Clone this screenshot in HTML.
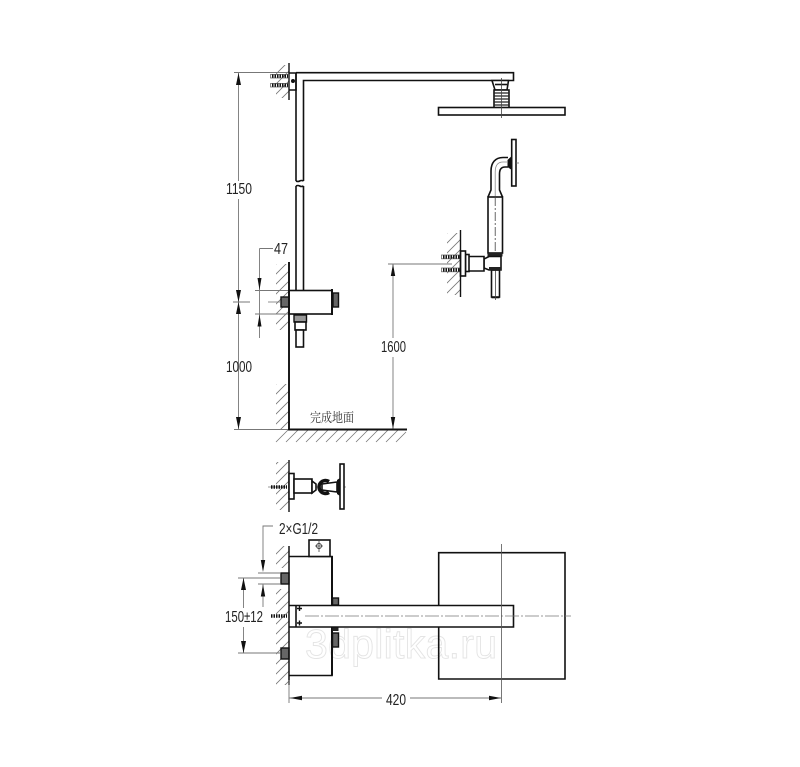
<!DOCTYPE html>
<html><head><meta charset="utf-8"><style>
html,body{margin:0;padding:0;background:#fff;width:800px;height:767px;overflow:hidden}
svg{display:block}
text{font-family:"Liberation Sans","Noto Sans CJK SC",sans-serif;fill:#222}
.k{fill:none;stroke:#111;stroke-width:1.6}
.w{fill:#fff;stroke:#111;stroke-width:1.6}
.t{fill:none;stroke:#444;stroke-width:.8}
.d{fill:none;stroke:#777;stroke-width:.9}
.c{fill:none;stroke:#777;stroke-width:.8;stroke-dasharray:14 2 2 2}
.a{fill:#111;stroke:none}
.n{fill:#666;stroke:#111;stroke-width:1.4}
.s{fill:none;stroke:#111;stroke-width:4;stroke-dasharray:1.5 1}
</style></head><body>
<svg width="800" height="767" viewBox="0 0 800 767" xmlns="http://www.w3.org/2000/svg">
<defs><pattern id="h" patternUnits="userSpaceOnUse" width="10" height="10"><path d="M0 10L10 0M-2 2L2 -2M8 12L12 8" stroke="#777" stroke-width=".8"/></pattern></defs>
<rect width="800" height="767" fill="#fff"/>

<!-- watermark -->
<text x="305" y="658" font-size="41" textLength="192" lengthAdjust="spacing" style="fill:#fff;stroke:#e4e4e4;stroke-width:.9">3dplitka.ru</text>

<!-- wall hatching -->
<rect x="276" y="65" width="13" height="33" fill="url(#h)"/>
<rect x="276" y="264" width="13" height="66" fill="url(#h)"/>
<rect x="276" y="384" width="13" height="45" fill="url(#h)"/>
<path d="M276 442l12 -12M286 442l12 -12M296 442l12 -12M306 442l12 -12M316 442l12 -12M326 442l12 -12M336 442l12 -12M346 442l12 -12M356 442l12 -12M366 442l12 -12M376 442l12 -12M386 442l12 -12M396 442l10 -10" stroke="#777" stroke-width=".8" fill="none"/>
<rect x="447" y="233" width="13" height="62" fill="url(#h)"/>
<rect x="276" y="462" width="13" height="48" fill="url(#h)"/>
<rect x="276" y="546" width="13" height="22" fill="url(#h)"/>
<rect x="276" y="589" width="13" height="96" fill="url(#h)"/>

<!-- upper left dims -->
<path class="d" d="M234 72.5H289M238.5 72.5V181M238.5 199V429.5M234 429.5H289M233 302H250"/>
<path class="d" d="M255 290.5H289M255 314H289M259.5 248.5H273M259.5 248.5V338"/>
<path class="a" d="M238.5 73l-2.5 12h5zM238.5 429l-2.5 -12h5zM238.5 302l-2.5 -12h5zM238.5 302l-2.5 12h5zM259.5 290l-2 -12h4zM259.5 314.500l-2 12h4z"/>
<text x="226" y="194" font-size="16" textLength="26" lengthAdjust="spacingAndGlyphs">1150</text>
<text x="226" y="372" font-size="16" textLength="26" lengthAdjust="spacingAndGlyphs">1000</text>
<text x="274" y="254" font-size="16" textLength="14" lengthAdjust="spacingAndGlyphs">47</text>

<!-- upper left wall + arm -->
<path d="M289 63V100" stroke="#111" stroke-width="1.4" fill="none"/>
<path class="s" d="M272 76H288M272 85H288"/>
<rect x="270.500" y="74.500" width="18" height="3.500" fill="none" stroke="#555" stroke-width=".7"/>
<rect x="270.500" y="83.500" width="18" height="3.500" fill="none" stroke="#555" stroke-width=".7"/>
<path class="k" d="M289 73H296V90H289"/>
<path class="k" d="M296 72.700H513.500V80.500H303.500V181M296 72.700V181"/>
<path class="k" d="M296 181q2 1 3.700 0t3.800 0M296 186q2 -1 3.700 0t3.800 0M296 186V290.500M303.500 186V290.500"/>
<circle cx="293" cy="81" r="2" fill="#111"/>

<!-- shower head -->
<path class="w" d="M492 80.500H508.500L507 90H495z"/>
<path class="k" d="M495 84.500H507"/>
<rect x="494" y="90" width="15" height="18" class="w"/>
<path d="M494 93H509M494 96H509M494 99H509M494 102H509M494 105H509" stroke="#222" stroke-width="1.300"/>
<rect x="438.500" y="107.500" width="126.500" height="7.500" class="w"/>
<path class="t" d="M501.500 78V118"/>

<!-- hand shower -->
<rect x="511.700" y="139.500" width="4.300" height="46.500" class="w"/>
<path class="a" d="M511.700 156L507.500 160V167L511.700 170z"/>
<path class="k" d="M508 157.500H503C495 157.500 491 163 491 171V190L488 197M508 167H505C501 167 499.500 170 499.500 174V190L502.500 197"/>
<path d="M508 162H503C497.500 162 495.200 166 495.200 172V196" stroke="#888" stroke-width=".8" fill="none"/>
<rect x="488" y="197" width="14.500" height="56" class="w"/>
<path class="t" d="M495.200 197V253" stroke-dasharray="9 2 2 2"/>
<path d="M516 163H519" stroke="#666" stroke-width=".8"/>
<rect x="487.500" y="253" width="15" height="3.500" fill="#222"/>
<rect x="491.500" y="270" width="8" height="27" class="w"/>
<path d="M491.500 297.500H499.500" stroke="#111" stroke-width="1.600"/>
<path class="t" d="M495.500 256V300"/>
<path class="w" d="M489 256.500H501V270H489L484 268V259z"/>
<rect x="489" y="267" width="12" height="3.500" fill="#222"/>
<path class="w" d="M465.500 256.500H484V271H465.500z"/>
<rect x="465.500" y="254.500" width="3.500" height="17" class="w"/>
<path class="s" d="M443 257H460M443 270H460"/>
<rect x="441.500" y="255" width="19" height="3.800" fill="none" stroke="#555" stroke-width=".7"/>
<rect x="441.500" y="268" width="19" height="3.800" fill="none" stroke="#555" stroke-width=".7"/>
<rect x="460.500" y="251" width="5" height="25" class="w"/>
<path d="M460.500 230V297" stroke="#111" stroke-width="1.400"/>

<!-- 1600 dim -->
<path class="d" d="M388 264H452M393 264V338M393 357V429"/>
<path class="a" d="M393 264l-2.200 12h4.400zM393 429l-2.200 -12h4.400z"/>
<text x="381" y="352" font-size="16" textLength="25" lengthAdjust="spacingAndGlyphs">1600</text>

<!-- valve side -->
<rect x="289" y="290.500" width="43" height="23.500" class="w"/>
<path d="M332 289V315" stroke="#111" stroke-width="2"/>
<rect x="333" y="293" width="5.500" height="14" class="n"/>
<rect x="281" y="297" width="8" height="10" class="n"/>
<path class="c" d="M268 302H280"/>
<rect x="294" y="315" width="12.500" height="7" class="n" style="fill:#999"/>
<rect x="295" y="322" width="11" height="8" class="w"/>
<rect x="296" y="330" width="7.500" height="17" class="w"/>
<path d="M289 262V429.500H407" fill="none" stroke="#111" stroke-width="1.900"/>
<text x="310" y="422" font-size="13" textLength="44" lengthAdjust="spacingAndGlyphs" style="font-family:'Noto Serif CJK SC','Noto Sans CJK SC',serif;fill:#333">完成地面</text>

<!-- plan top mount -->
<path class="c" d="M268 487H347"/>
<path d="M289 460V512" stroke="#111" stroke-width="1.400"/>
<rect x="289" y="473.500" width="5" height="25.500" class="w"/>
<rect x="294" y="479" width="18" height="14" class="w"/>
<path class="s" d="M271 487H287" style="stroke-width:3.500"/>
<path class="w" d="M312 481L316 484V490L312 493z"/>
<path d="M329 481.500A6.500 6.500 0 1 0 329 492.500" fill="none" stroke="#111" stroke-width="3.500"/>
<path class="w" d="M322 484L337 482V492L322 490z"/>
<path class="a" d="M337 480L340 478V496L337 494z"/>
<rect x="340" y="464" width="4" height="45" class="w"/>

<!-- plan lower: dims -->
<path class="d" d="M273 526H263V561M263 584V607M258 573H280M258 584H280M238 578H280M238 653H280M243.500 578V608M243.500 627V653"/>
<path class="a" d="M263 572l-2.200 -12h4.400zM263 584.500l-2.200 12h4.400zM243.500 578l-2.500 12h5zM243.500 653l-2.500 -12h5z"/>
<text x="279" y="534" font-size="16" textLength="39" lengthAdjust="spacingAndGlyphs">2×G1/2</text>
<text x="225" y="622" font-size="16" textLength="38" lengthAdjust="spacingAndGlyphs">150±12</text>

<!-- square head -->
<path class="k" d="M438.700 605V552.700H565V679H438.700V627"/>
<!-- valve body -->
<path d="M289 556.500H332V675.500H289" fill="none" stroke="#111" stroke-width="1.600"/>
<path d="M332 556V605M332 627V675.500" stroke="#111" stroke-width="2"/>
<rect x="309" y="540" width="21" height="16.500" class="w"/>
<circle cx="319" cy="546" r="2.500" fill="none" stroke="#333" stroke-width=".9"/>
<path class="t" d="M319 541V552M315 546H323"/>
<rect x="281" y="573" width="8" height="11" class="n"/>
<rect x="281" y="648" width="8" height="11" class="n"/>
<rect x="332.500" y="598" width="6" height="7" class="n"/>
<rect x="332.500" y="627" width="6" height="4" fill="#222"/>
<rect x="332.500" y="633" width="6" height="14" class="n"/>
<!-- arm -->
<path class="w" d="M289 605.500H513.500V627H289"/>
<path class="k" d="M296 605.500V627"/>
<path d="M299.500 606V611M297 608.500H302M299.500 620.500V625.500M297 623H302" stroke="#111" stroke-width="1.400"/>
<path class="s" d="M271 616H287" style="stroke-width:3.500"/>
<path d="M289 546V685" stroke="#111" stroke-width="1.500" fill="none"/>
<path class="c" d="M305 616H571"/>
<path d="M501.500 544V703" stroke="#555" stroke-width=".8"/>

<!-- 420 dim -->
<path class="d" d="M289 680V703M289 698H382M410 698H501"/>
<path class="a" d="M290 698l12 -2.200v4.400zM501 698l-12 -2.200v4.400z"/>
<text x="386" y="705" font-size="16" textLength="20" lengthAdjust="spacingAndGlyphs">420</text>
</svg>
</body></html>
